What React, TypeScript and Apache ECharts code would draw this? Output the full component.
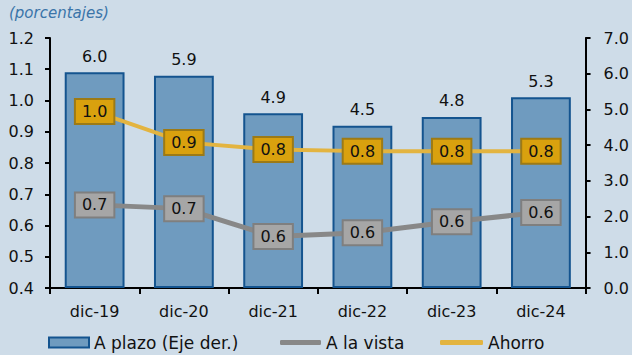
import React, { useEffect, useRef } from "react";
import * as echarts from "echarts";

const categories = ["dic-19", "dic-20", "dic-21", "dic-22", "dic-23", "dic-24"];
const aPlazo = [6.04, 5.94, 4.89, 4.54, 4.79, 5.34];
const aLaVista = [0.666, 0.654, 0.565, 0.577, 0.612, 0.642];
const ahorro = [0.965, 0.866, 0.843, 0.838, 0.838, 0.838];
const leftTicks = { min: 0.4, max: 1.2, interval: 0.1 };
const rightTicks = { min: 0, max: 7, interval: 1 };

const FONT = "DejaVu Sans";
const FS = 16;

export default function App() {
  const ref = useRef<HTMLDivElement>(null);
  useEffect(() => {
    if (!ref.current) return;
    const chart = echarts.init(ref.current, null, { renderer: "svg" });
    const lineLabel = (bg: string, border: string) => ({
      show: true,
      position: "inside",
      formatter: (p: any) => Number(p.value).toFixed(1),
      backgroundColor: bg,
      borderColor: border,
      borderWidth: 2,
      padding: [4, 6, 3, 6],
      color: "#111",
      fontFamily: FONT,
      fontSize: FS,
    });
    const legendBase = {
      top: 334,
      padding: 0,
      textStyle: { fontFamily: FONT, fontSize: 17, color: "#111" },
      selectedMode: false,
    };
    chart.setOption({
      animation: false,
      backgroundColor: "#CEDCE8",
      textStyle: { fontFamily: FONT },
      title: {
        text: "(porcentajes)",
        left: 9,
        top: 5,
        padding: 0,
        textStyle: {
          fontFamily: FONT,
          fontSize: 15,
          fontStyle: "italic",
          fontWeight: "normal",
          color: "#3A74A8",
        },
      },
      grid: { left: 50, right: 44, top: 38, bottom: 67 },
      legend: [
        {
          ...legendBase,
          left: 48,
          data: [{ name: "A plazo (Eje der.)", icon: "rect" }],
          itemWidth: 40,
          itemHeight: 10,
        },
        {
          ...legendBase,
          left: 280,
          data: [{ name: "A la vista", icon: "roundRect" }],
          itemWidth: 41,
          itemHeight: 5,
        },
        {
          ...legendBase,
          left: 440,
          data: [{ name: "Ahorro", icon: "roundRect" }],
          itemWidth: 43,
          itemHeight: 5,
        },
      ],
      xAxis: {
        type: "category",
        data: categories,
        axisLine: { lineStyle: { color: "#000", width: 2 } },
        axisTick: { show: true, length: 6, alignWithLabel: false, lineStyle: { color: "#000", width: 2 } },
        axisLabel: { color: "#111", fontSize: FS, fontFamily: FONT, margin: 15 },
      },
      yAxis: [
        {
          type: "value",
          ...leftTicks,
          position: "left",
          splitLine: { show: false },
          axisLine: { show: true, lineStyle: { color: "#000", width: 2 } },
          axisTick: { show: true, length: 5, lineStyle: { color: "#000", width: 2 } },
          axisLabel: {
            color: "#111",
            fontSize: FS,
            fontFamily: FONT,
            margin: 16,
            formatter: (v: number) => v.toFixed(1),
          },
        },
        {
          type: "value",
          ...rightTicks,
          position: "right",
          splitLine: { show: false },
          axisLine: { show: true, lineStyle: { color: "#000", width: 2 } },
          axisTick: { show: true, length: 5, lineStyle: { color: "#000", width: 2 } },
          axisLabel: {
            color: "#111",
            fontSize: FS,
            fontFamily: FONT,
            margin: 18,
            formatter: (v: number) => v.toFixed(1),
          },
        },
      ],
      series: [
        {
          name: "A plazo (Eje der.)",
          type: "bar",
          yAxisIndex: 1,
          data: aPlazo,
          barCategoryGap: "33%",
          itemStyle: { color: "#6F9BBF", borderColor: "#14548F", borderWidth: 2 },
          label: {
            show: true,
            position: "top",
            distance: 8,
            color: "#111",
            fontSize: FS,
            fontFamily: FONT,
            formatter: (p: any) => Number(p.value).toFixed(1),
          },
        },
        {
          name: "A la vista",
          type: "line",
          yAxisIndex: 0,
          data: aLaVista,
          symbol: "circle",
          symbolSize: 1,
          showSymbol: true,
          color: "#888888",
          itemStyle: { color: "#888888" },
          lineStyle: { color: "#888888", width: 5 },
          label: lineLabel("#A6A6A6", "#7F7F7F"),
          z: 3,
        },
        {
          name: "Ahorro",
          type: "line",
          yAxisIndex: 0,
          data: ahorro,
          symbol: "circle",
          symbolSize: 1,
          showSymbol: true,
          color: "#E3B440",
          itemStyle: { color: "#E3B440" },
          lineStyle: { color: "#E3B440", width: 4 },
          label: lineLabel("#D9A10E", "#9C7A16"),
          z: 4,
        },
      ],
    });
    return () => chart.dispose();
  }, []);
  return (
    <div
      ref={ref}
      style={{ width: 632, height: 355, position: "fixed", left: 0, top: 0 }}
    />
  );
}
